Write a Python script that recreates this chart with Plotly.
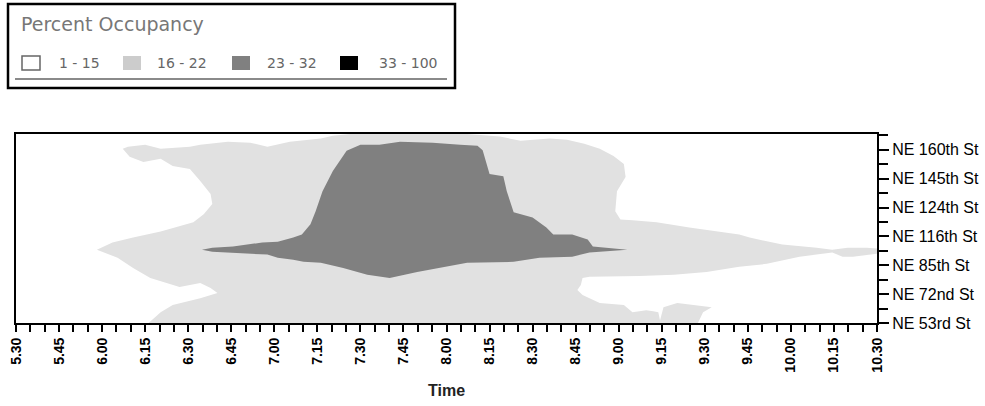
import plotly.graph_objects as go

# ---------------- data ----------------
locations = ["NE 53rd St", "NE 72nd St", "NE 85th St", "NE 116th St",
             "NE 124th St", "NE 145th St", "NE 160th St"]
location_pos = [0, 1, 2, 3, 4, 5, 6]

time_ticks = [5.5 + 0.25 * i for i in range(21)]
time_labels = ["5.30", "5.45", "6.00", "6.15", "6.30", "6.45", "7.00", "7.15",
               "7.30", "7.45", "8.00", "8.15", "8.30", "8.45", "9.00", "9.15",
               "9.30", "9.45", "10.00", "10.15", "10.30"]

# boundary of the 16-22 % occupancy zone (time in hours, location index)
light_time = [5.97, 6.06, 6.18, 6.34, 6.53, 6.59, 6.64, 6.63, 6.57, 6.51, 6.41, 6.34,
              6.24, 6.16, 6.12, 6.15, 6.25, 6.34, 6.51, 6.57, 6.73, 6.86, 6.96, 7.09,
              7.27, 7.34, 7.44, 7.73, 8.12, 8.31, 8.43, 8.60, 8.70, 8.80, 8.89, 8.97,
              9.03, 9.04, 8.99, 8.98, 9.01, 9.08, 9.22, 9.41, 9.57, 9.70, 9.76, 9.95,
              10.15, 10.24, 10.33, 10.44, 10.50, 10.50, 10.36, 10.30, 10.24, 10.05,
              9.86, 9.70, 9.51, 9.32, 9.12, 8.83, 8.79, 8.78, 8.76, 8.79, 8.89, 9.03,
              9.08, 9.16, 9.20, 9.23, 9.24, 9.26, 9.34, 9.41, 9.54, 9.49, 9.46, 6.27,
              6.34, 6.41, 6.57, 6.67, 6.63, 6.57, 6.45, 6.28, 6.18, 6.09, 5.97]
light_loc = [2.54, 2.79, 2.96, 3.17, 3.49, 3.77, 4.12, 4.47, 4.92, 5.34, 5.44, 5.69,
             5.58, 5.76, 6.04, 6.11, 6.18, 6.04, 6.11, 6.18, 6.28, 6.25, 6.11, 6.28,
             6.39, 6.49, 6.55, 6.55, 6.55, 6.46, 6.32, 6.39, 6.35, 6.21, 6.04, 5.79,
             5.51, 5.06, 4.57, 3.87, 3.59, 3.56, 3.49, 3.31, 3.17, 3.07, 2.96, 2.72,
             2.61, 2.54, 2.61, 2.61, 2.58, 2.40, 2.30, 2.30, 2.44, 2.30,
             2.05, 1.95, 1.77, 1.67, 1.63, 1.60, 1.56, 1.32, 1.14, 0.97, 0.69, 0.62,
             0.37, 0.44, 0.41, 0.37, 0.09, 0.55, 0.69, 0.65, 0.55, 0.37, 0.00, 0.00,
             0.37, 0.62, 0.86, 1.04, 1.21, 1.39, 1.25, 1.56, 1.91, 2.26, 2.54]

# boundary of the 23-32 % occupancy zone
dark_time = [6.58, 6.64, 6.76, 6.93, 7.02, 7.11, 7.16, 7.21, 7.24, 7.28, 7.34, 7.42,
             7.50, 7.61, 7.73, 7.92, 8.08, 8.18, 8.21, 8.25, 8.33, 8.35, 8.39, 8.50,
             8.58, 8.62, 8.73, 8.82, 8.85, 9.05, 8.89, 8.83, 8.73, 8.54, 8.39, 8.12,
             7.83, 7.67, 7.54, 7.40, 7.27, 7.17, 7.11, 7.02, 6.96, 6.86, 6.64, 6.58]
dark_loc = [2.54, 2.61, 2.65, 2.79, 2.82, 2.96, 3.07, 3.42, 3.87, 4.57, 5.27, 5.97,
            6.18, 6.18, 6.28, 6.25, 6.18, 6.14, 5.99, 5.16, 5.09, 4.57, 3.84, 3.66,
            3.31, 3.07, 3.07, 2.89, 2.65, 2.54, 2.47, 2.44, 2.30, 2.26, 2.12, 2.09,
            1.77, 1.56, 1.67, 1.91, 2.09, 2.12, 2.19, 2.26, 2.37, 2.40, 2.47, 2.54]

legend_title = "Percent Occupancy"
legend_labels = ["1 - 15", "16 - 22", "23 - 32", "33 - 100"]
legend_colors = ["#ffffff", "#cccccc", "#808080", "#000000"]

# ---------------- figure ----------------
W, H = 985, 406
L, R, T, B = 16, 877, 134, 323


def px(x):
    return (x - L) / (R - L)


def py(y):
    return (B - y) / (B - T)


fig = go.Figure()
fig.add_trace(go.Scatter(x=light_time, y=light_loc, mode="lines", fill="toself",
                         fillcolor="#e1e1e1", line=dict(width=0, color="#e1e1e1"),
                         hoverinfo="skip", showlegend=False))
fig.add_trace(go.Scatter(x=dark_time, y=dark_loc, mode="lines", fill="toself",
                         fillcolor="#808080", line=dict(width=0, color="#808080"),
                         hoverinfo="skip", showlegend=False))

shapes = []
annotations = []

# legend box
shapes.append(dict(type="rect", xref="paper", yref="paper",
                   x0=px(8), x1=px(455), y0=py(4), y1=py(88),
                   line=dict(color="black", width=2.5), fillcolor="white", layer="above"))
shapes.append(dict(type="line", xref="paper", yref="paper",
                   x0=px(15), x1=px(447), y0=py(79), y1=py(79),
                   line=dict(color="#8a8a8a", width=2), layer="above"))
annotations.append(dict(text=legend_title, xref="paper", yref="paper",
                        x=px(19), y=py(24), xanchor="left", yanchor="middle",
                        showarrow=False, font=dict(family="DejaVu Sans", size=19, color="#777777")))
sq_x = [22, 123, 232, 340]
txt_x = [57, 155, 265, 377]
for i, (lab, col) in enumerate(zip(legend_labels, legend_colors)):
    shapes.append(dict(type="rect", xref="paper", yref="paper",
                       x0=px(sq_x[i]), x1=px(sq_x[i] + 18), y0=py(56), y1=py(70),
                       line=dict(color="#666666" if i == 0 else col, width=1.5 if i == 0 else 0),
                       fillcolor=col, layer="above"))
    annotations.append(dict(text=lab, xref="paper", yref="paper",
                            x=px(txt_x[i]), y=py(63), xanchor="left", yanchor="middle",
                            showarrow=False, font=dict(family="DejaVu Sans", size=14, color="#666666")))

annotations.append(dict(text="<b>Time</b>", xref="paper", yref="paper",
                        x=0.5, y=py(390), xanchor="center", yanchor="middle",
                        showarrow=False, font=dict(family="Liberation Sans", size=16, color="#222222")))

fig.update_layout(
    template="none",
    width=W, height=H, autosize=False,
    margin=dict(l=L, r=W - R, t=T, b=H - B, pad=0, autoexpand=False),
    paper_bgcolor="white", plot_bgcolor="white",
    showlegend=False,
    shapes=shapes, annotations=annotations,
    xaxis=dict(range=[5.5, 10.5], tickmode="array", tickvals=time_ticks,
               ticktext=["<b>%s</b>" % t for t in time_labels], automargin=False,
               tickangle=-90, ticks="outside", ticklen=7, tickwidth=2, tickcolor="black",
               tickfont=dict(family="Liberation Sans", size=14, color="black"),
               minor=dict(dtick=1 / 12, tick0=5.5, ticks="outside", ticklen=7,
                          tickwidth=2, tickcolor="black", showgrid=False),
               showgrid=False, zeroline=False, showline=True, linecolor="black",
               linewidth=2, mirror=True, fixedrange=True),
    yaxis=dict(range=[0, 6.55], side="right", tickmode="array", tickvals=location_pos,
               ticktext=locations, ticks="outside", ticklen=10, tickwidth=1.5, automargin=False,
               tickcolor="black", tickfont=dict(family="Liberation Sans", size=16, color="black"),
               minor=dict(dtick=1, tick0=0.5, ticks="outside", ticklen=9, tickwidth=1.5,
                          tickcolor="black", showgrid=False),
               showgrid=False, zeroline=False, showline=True, linecolor="black",
               linewidth=2, mirror=True, fixedrange=True),
)

fig.write_html("out.html", config={"displayModeBar": False},
               post_script="document.body.style.margin='0';document.body.style.overflow='hidden';")
